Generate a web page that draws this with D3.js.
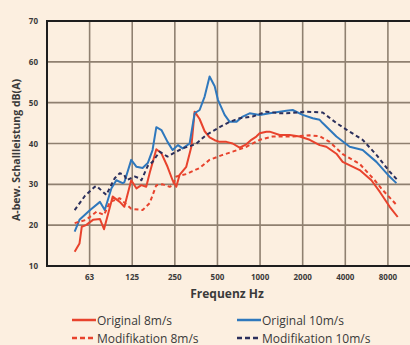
<!DOCTYPE html>
<html>
<head>
<meta charset="utf-8">
<script src="https://cdn.jsdelivr.net/npm/d3@7"></script>
<style>
  html, body { margin: 0; padding: 0; background: #fcefe0; }
  svg { display: block; }
  text { font-family: "Open Sans", "Noto Sans", sans-serif; fill: #3a3a3a; }
</style>
</head>
<body>
<svg id="chart" width="410" height="345"></svg>
<script>
// frequency (Hz) / level dB(A)
var orig8Freq = [49, 53, 55, 59, 66, 74, 79, 91, 102, 110, 123, 134, 145, 157, 166, 185, 201, 222, 241, 256, 270, 301, 327, 345, 374, 406, 440, 478, 518, 578, 640, 717, 800, 868, 941, 994, 1108, 1169, 1376, 1619, 1905, 2241, 2637, 2940, 3461, 3834, 5056, 6117, 7000, 8237, 9383];
var orig8Db   = [13.5, 15.5, 19.6, 20, 21.3, 21.5, 19, 27, 25.7, 24.5, 31, 29, 29.8, 29.4, 32.8, 38.6, 37.6, 34.3, 31, 29.4, 32.3, 34.3, 39.2, 47.8, 46, 43, 41.5, 40.8, 40.4, 40.4, 40, 39, 39.8, 40.9, 41.7, 42.5, 42.9, 42.9, 42.1, 42.1, 41.7, 40.9, 39.6, 39.2, 37.5, 35.5, 33.5, 31, 28.2, 24.5, 22];

var orig10Freq = [49, 53, 63, 74, 80, 89, 96.5, 107, 110, 123, 134, 148, 161, 174, 185, 201, 222, 241, 263, 284, 318, 345, 374, 406, 440, 478, 504, 562, 610, 680, 754, 844, 994, 1169, 1534, 1699, 2000, 2354, 2637, 2768, 3461, 4296, 5307, 6636, 8011, 9185];
var orig10Db   = [18.4, 21.3, 23.7, 25.7, 23.7, 29, 31, 30.3, 30.5, 36, 34.3, 34, 35.2, 38.4, 44, 43.3, 40.4, 38.4, 39.6, 38.8, 40, 47.4, 48.2, 51.5, 56.4, 54, 50.7, 47, 45.3, 45.3, 46.6, 47.4, 47, 47.4, 48, 48.2, 47, 46.2, 45.8, 45, 41.7, 39.2, 38.4, 35.5, 32.3, 30.3];

var mod8Freq = [49, 59, 70, 79, 87, 102, 114, 123, 148, 166, 185, 205, 230, 241, 256, 301, 374, 440, 544, 640, 800, 994, 1228, 1699, 2241, 2637, 3104, 3834, 5056, 6455, 7351, 9185];
var mod8Db   = [20.5, 21.3, 23.3, 22.5, 25.7, 26.6, 25, 24, 23.7, 25.4, 29.8, 30, 29.4, 29.8, 31.9, 32.5, 34, 36, 37.2, 38, 39.2, 40.9, 41.7, 41.7, 42, 41.8, 40.4, 37.4, 35, 31, 28.6, 25];

var mod10Freq = [49, 58, 68, 70, 82, 94, 102, 110, 114, 130, 141, 145, 161, 174, 195, 222, 256, 284, 334, 355, 417, 518, 610, 717, 886, 1108, 1376, 1534, 2124, 2768, 3461, 4296, 5307, 6636, 8237, 9383];
var mod10Db   = [23.7, 27.2, 29.4, 29.6, 27.4, 31.5, 32.7, 32.3, 31, 31.9, 31.5, 31, 34.5, 35.5, 38, 36.8, 38, 38.8, 39.6, 40, 42.1, 44, 45.3, 46.2, 46.6, 47.8, 47.4, 47.4, 47.8, 47.6, 45, 42.9, 40.9, 37.2, 33.1, 31];

var xTickValues = [62.5, 125, 250, 500, 1000, 2000, 4000, 8000];
var xTickLabels = ["63", "125", "250", "500", "1000", "2000", "4000", "8000"];
var yTickValues = [10, 20, 30, 40, 50, 60, 70];

var seriesNames = ["Original 8m/s", "Original 10m/s", "Modifikation 8m/s", "Modifikation 10m/s"];

var red = "#e8432d", blue = "#2f78bd", navy = "#2b2f5c";

var series = [
    {name: seriesNames[0], f: orig8Freq, v: orig8Db, color: red, dash: null},
    {name: seriesNames[1], f: orig10Freq, v: orig10Db, color: blue, dash: null},
    {name: seriesNames[2], f: mod8Freq, v: mod8Db, color: red, dash: "4,3"},
    {name: seriesNames[3], f: mod10Freq, v: mod10Db, color: navy, dash: "4,3"}
];

var svg = d3.select("#chart");
var plotLeft = 47, plotTop = 21, plotRight = 410, plotBottom = 266;

var x = d3.scaleLog().base(2).domain([31.25, 11460]).range([plotLeft, plotRight]);
var y = d3.scaleLinear().domain([10, 70]).range([plotBottom, plotTop]);

// grid
var grid = svg.append("g").attr("stroke", "#8f8070").attr("stroke-width", 1.6);
grid.selectAll("line.v").data(xTickValues).enter().append("line")
    .attr("x1", function (d) { return x(d); }).attr("x2", function (d) { return x(d); })
    .attr("y1", plotTop).attr("y2", plotBottom);
grid.selectAll("line.h").data(yTickValues.slice(1, -1)).enter().append("line")
    .attr("x1", plotLeft).attr("x2", plotRight)
    .attr("y1", function (d) { return y(d); }).attr("y2", function (d) { return y(d); });

// frame (left, top, bottom)
var frame = svg.append("g").attr("stroke", "#1e1e1e").attr("stroke-width", 2);
frame.append("line").attr("x1", plotLeft).attr("x2", plotRight).attr("y1", plotTop).attr("y2", plotTop);
frame.append("line").attr("x1", plotLeft).attr("x2", plotRight).attr("y1", plotBottom).attr("y2", plotBottom);
frame.append("line").attr("x1", plotLeft).attr("x2", plotLeft).attr("y1", plotTop - 1).attr("y2", plotBottom + 1);

// tick labels
svg.append("g").selectAll("text").data(yTickValues).enter().append("text")
    .attr("x", 38).attr("y", function (d) { return y(d) + 3; })
    .attr("text-anchor", "end").attr("font-size", 8).attr("font-weight", "bold")
    .text(function (d) { return d; });

svg.append("g").selectAll("text").data(xTickValues).enter().append("text")
    .attr("x", function (d) { return x(d); }).attr("y", 280)
    .attr("text-anchor", "middle").attr("font-size", 8).attr("font-weight", "bold")
    .text(function (d, i) { return xTickLabels[i]; });

// axis titles
svg.append("text").attr("x", 227).attr("y", 298).attr("text-anchor", "middle")
    .attr("font-size", 12).attr("font-weight", "bold").text("Frequenz Hz");
svg.append("text").attr("transform", "translate(20,150) rotate(-90)").attr("text-anchor", "middle")
    .attr("font-size", 10.5).attr("font-weight", "bold").text("A-bew. Schallleistung dB(A)");

// curves
var line = d3.line()
    .x(function (d) { return x(d[0]); })
    .y(function (d) { return y(d[1]); });

svg.append("g").selectAll("path").data(series).enter().append("path")
    .attr("fill", "none")
    .attr("stroke", function (d) { return d.color; })
    .attr("stroke-width", 2)
    .attr("stroke-dasharray", function (d) { return d.dash; })
    .attr("stroke-linejoin", "round")
    .attr("d", function (d) { return line(d3.zip(d.f, d.v)); });

// legend
var legendPos = [[72, 320], [237, 320], [72, 338], [237, 338]];
var legend = svg.append("g").selectAll("g").data(series).enter().append("g")
    .attr("transform", function (d, i) { return "translate(" + legendPos[i][0] + "," + legendPos[i][1] + ")"; });
legend.append("line").attr("x1", 0).attr("x2", 24).attr("y1", 0).attr("y2", 0)
    .attr("stroke", function (d) { return d.color; }).attr("stroke-width", 2.5)
    .attr("stroke-dasharray", function (d) { return d.dash ? "5,3" : null; });
legend.append("text").attr("x", 25).attr("y", 4.5).attr("font-size", 12)
    .text(function (d) { return d.name; });
</script>
</body>
</html>
